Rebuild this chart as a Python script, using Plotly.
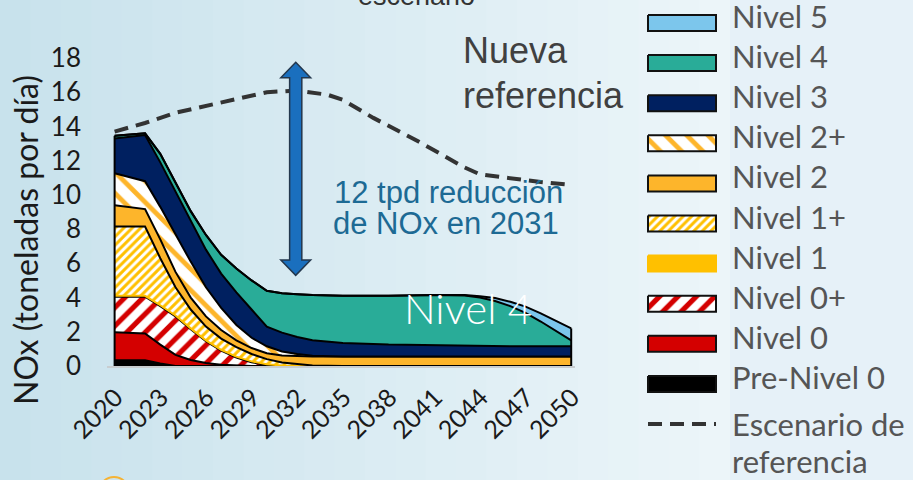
import plotly.graph_objects as go

# ---------------- data ----------------
years = [2020, 2022, 2023, 2024, 2025, 2026, 2027, 2028, 2029, 2030, 2031, 2032,
         2033, 2035, 2038, 2041, 2043, 2044, 2045, 2046, 2047, 2048, 2049, 2050]

pre_nivel0 = [0.33, 0.33, 0.15, 0, 0, 0, 0, 0, 0, 0, 0, 0,
              0, 0, 0, 0, 0, 0, 0, 0, 0, 0, 0, 0]
nivel0 = [1.64, 1.57, 1.10, 0.65, 0.35, 0.18, 0.08, 0.03, 0, 0, 0, 0,
          0, 0, 0, 0, 0, 0, 0, 0, 0, 0, 0, 0]
nivel0p = [2.08, 2.15, 2.25, 2.25, 1.80, 1.27, 0.82, 0.47, 0.22, 0.06, 0, 0,
           0, 0, 0, 0, 0, 0, 0, 0, 0, 0, 0, 0]
nivel1 = [0.05, 0.05, 0.05, 0.05, 0.05, 0.05, 0.05, 0.05, 0.05, 0.04, 0.03, 0,
          0, 0, 0, 0, 0, 0, 0, 0, 0, 0, 0, 0]
nivel1p = [4.05, 4.05, 2.75, 1.65, 1.10, 0.80, 0.65, 0.55, 0.43, 0.30, 0.17, 0.10,
           0.03, 0, 0, 0, 0, 0, 0, 0, 0, 0, 0, 0]
nivel2 = [1.25, 1.02, 1.10, 0.90, 0.70, 0.60, 0.50, 0.40, 0.35, 0.35, 0.42, 0.48,
          0.53, 0.55, 0.55, 0.55, 0.55, 0.55, 0.55, 0.55, 0.55, 0.55, 0.55, 0.55]
nivel2p = [1.87, 1.63, 1.90, 2.20, 2.10, 1.70, 1.30, 0.90, 0.60, 0.40, 0.23, 0.12,
           0.04, 0.01, 0, 0, 0, 0, 0, 0, 0, 0, 0, 0]
nivel3 = [2.03, 2.70, 2.60, 2.50, 2.40, 2.20, 2.00, 1.90, 1.65, 1.15, 1.10, 1.00,
          0.90, 0.79, 0.70, 0.65, 0.63, 0.62, 0.61, 0.60, 0.60, 0.60, 0.60, 0.60]
nivel4 = [0.15, 0.10, 0.50, 0.50, 0.55, 0.86, 1.10, 1.40, 1.70, 2.10, 2.30, 2.50,
          2.65, 2.75, 2.85, 2.95, 2.94, 2.83, 2.64, 2.35, 1.95, 1.45, 0.90, 0.35]
nivel5 = [0, 0, 0, 0, 0, 0, 0, 0, 0, 0, 0, 0,
          0, 0, 0, 0, 0.03, 0.08, 0.17, 0.25, 0.37, 0.48, 0.60, 0.70]

ref_years = [2020, 2022, 2024, 2026, 2028, 2030, 2032, 2034, 2035, 2037, 2040,
             2043, 2044, 2046, 2048, 2050]
ref_values = [13.7, 14.2, 14.8, 15.2, 15.6, 16.0, 16.1, 15.85, 15.55, 14.5, 13.1,
              11.6, 11.2, 10.95, 10.75, 10.58]

x_ticks = [2020, 2023, 2026, 2029, 2032, 2035, 2038, 2041, 2044, 2047, 2050]
y_ticks = [0, 2, 4, 6, 8, 10, 12, 14, 16, 18]

# ---------------- styles ----------------
# name, values, colour, pattern (shape, size, solidity), border in legend
series = [
    ("Pre-Nivel 0", pre_nivel0, "#000000", None, True),
    ("Nivel 0", nivel0, "#D40000", None, True),
    ("Nivel 0+", nivel0p, "#D40000", ("/", 13, 0.4), True),
    ("Nivel 1", nivel1, "#FFC000", None, False),
    ("Nivel 1+", nivel1p, "#FFC000", ("/", 6, 0.5), True),
    ("Nivel 2", nivel2, "#FDB52B", None, True),
    ("Nivel 2+", nivel2p, "#FDB52B", ("\\", 15, 0.32), True),
    ("Nivel 3", nivel3, "#002060", None, True),
    ("Nivel 4", nivel4, "#29AC98", None, True),
    ("Nivel 5", nivel5, "#7CC6EC", None, True),
]

W, H = 913, 480
PX_L, PX_R, PX_T, PX_B = 107, 575, 58, 366   # plot-area box in pixels


def fill_kw(color, pat):
    if pat is None:
        return dict(fillcolor=color)
    return dict(fillcolor="white",
                fillpattern=dict(shape=pat[0], fgcolor=color, bgcolor="white",
                                 size=pat[1], solidity=pat[2], fillmode="replace"))


fig = go.Figure()
for name, vals, color, pat, border in series:
    fig.add_trace(go.Scatter(
        x=years, y=vals, name=name, stackgroup="one", mode="lines",
        line=dict(color="#000000" if name != "Nivel 1" else "#FFC000", width=2),
        showlegend=False, hoverinfo="skip", **fill_kw(color, pat)))

fig.add_trace(go.Scatter(
    x=ref_years, y=ref_values, name="Escenario de referencia", mode="lines",
    line=dict(color="#333333", width=4, dash="14px,8px"),
    showlegend=False, hoverinfo="skip"))

# ---------------- hand-made legend (pixel axis over the whole figure) ----------------
LEG_FONT = dict(family="Lato", size=31, color="#555555")
annotations = []
sw_x0, sw_x1, sw_h = 648, 716, 16
for k, (name, vals, color, pat, border) in enumerate(reversed(series)):
    cy = 23 + 40.1 * k
    fig.add_trace(go.Scatter(
        x=[sw_x0, sw_x1, sw_x1, sw_x0, sw_x0],
        y=[cy - sw_h / 2, cy - sw_h / 2, cy + sw_h / 2, cy + sw_h / 2, cy - sw_h / 2],
        xaxis="x2", yaxis="y2", mode="lines", fill="toself",
        line=dict(color="#111111" if border else color, width=2),
        showlegend=False, hoverinfo="skip", **fill_kw(color, pat)))
    annotations.append(dict(
        x=730 / W, y=1 - (cy - 7) / H, xref="paper", yref="paper", text=name,
        showarrow=False, xanchor="left", yanchor="middle", font=LEG_FONT))

cy = 23 + 40.1 * 10
fig.add_trace(go.Scatter(
    x=[sw_x0, sw_x1], y=[cy, cy], xaxis="x2", yaxis="y2", mode="lines",
    line=dict(color="#333333", width=4, dash="14px,8px"),
    showlegend=False, hoverinfo="skip"))
annotations.append(dict(x=730 / W, y=1 - (cy + 0) / H, xref="paper", yref="paper",
                        text="Escenario de", showarrow=False, xanchor="left",
                        yanchor="middle", font=LEG_FONT))
annotations.append(dict(x=730 / W, y=1 - (cy + 37) / H, xref="paper", yref="paper",
                        text="referencia", showarrow=False, xanchor="left",
                        yanchor="middle", font=LEG_FONT))

# ---------------- other annotations ----------------
annotations += [
    dict(x=416 / W, y=1 - 13 / H, xref="paper", yref="paper", text="escenario",
         showarrow=False, xanchor="center", yanchor="bottom",
         font=dict(family="Liberation Sans", size=27, color="#333333")),
    dict(x=461 / W, y=1 - 51 / H, xref="paper", yref="paper", text="Nueva",
         showarrow=False, xanchor="left", yanchor="middle",
         font=dict(family="Liberation Sans", size=36, color="#404040")),
    dict(x=461 / W, y=1 - 96 / H, xref="paper", yref="paper", text="referencia",
         showarrow=False, xanchor="left", yanchor="middle",
         font=dict(family="Liberation Sans", size=36, color="#404040")),
    dict(x=448 / W, y=1 - 192 / H, xref="paper", yref="paper", text="12 tpd reducción",
         showarrow=False, xanchor="center", yanchor="middle",
         font=dict(family="Liberation Sans", size=31, color="#1D6A94")),
    dict(x=446 / W, y=1 - 223 / H, xref="paper", yref="paper", text="de NOx en 2031",
         showarrow=False, xanchor="center", yanchor="middle",
         font=dict(family="Liberation Sans", size=31, color="#1D6A94")),
    dict(x=468 / W, y=1 - 308 / H, xref="paper", yref="paper", text="Nivel 4",
         showarrow=False, xanchor="center", yanchor="middle",
         font=dict(family="Lato", size=42, color="#FFFFFF", weight=300)),
    dict(x=25 / W, y=1 - 240 / H, xref="paper", yref="paper",
         text="NOx (toneladas por día)", textangle=-90, showarrow=False,
         xanchor="center", yanchor="middle",
         font=dict(family="Lato", size=32, color="#1a1a1a")),
]

# ---------------- shapes ----------------
total_first = sum(s[1][0] for s in series)
total_last = sum(s[1][-1] for s in series)

shapes = []
# soft left-to-right background gradient (decoration)
n_strips = 24
c0, c1 = (200, 226, 236), (236, 245, 249)
for i in range(n_strips):
    t = i / (n_strips - 1)
    col = tuple(round(a + (b - a) * t) for a, b in zip(c0, c1))
    shapes.append(dict(type="rect", xref="paper", yref="paper",
                       x0=i * 730 / n_strips / W, x1=(i + 1) * 730 / n_strips / W + 0.001,
                       y0=0, y1=1, fillcolor="rgb(%d,%d,%d)" % col,
                       line=dict(width=0), layer="below"))
shapes.append(dict(type="rect", xref="paper", yref="paper", x0=730 / W, x1=1.0, y0=0, y1=1,
                   fillcolor="#E6F1F8", line=dict(width=0), layer="below"))
shapes += [
    dict(type="line", xref="x", yref="y", x0=years[0], x1=years[0], y0=0, y1=total_first,
         line=dict(color="#000000", width=2)),
    dict(type="line", xref="x", yref="y", x0=years[-1], x1=years[-1], y0=0, y1=total_last,
         line=dict(color="#000000", width=2)),
]
cx, hw, sw = 2031.9, 0.98, 0.4
top, topb, bot, botb = 17.75, 16.85, 5.3, 6.2
path = (f"M {cx},{top} L {cx+hw},{topb} L {cx+sw},{topb} L {cx+sw},{botb} "
        f"L {cx+hw},{botb} L {cx},{bot} L {cx-hw},{botb} L {cx-sw},{botb} "
        f"L {cx-sw},{topb} L {cx-hw},{topb} Z")
shapes.append(dict(type="path", xref="x", yref="y", path=path,
                   fillcolor="#1A6FBE", line=dict(color="#23374D", width=1.5)))
shapes.append(dict(type="circle", xref="paper", yref="paper",
                   x0=99 / W, x1=129 / W, y0=1 - 507 / H, y1=1 - 477 / H,
                   line=dict(color="#F5B335", width=2)))

fig.update_layout(
    width=W, height=H,
    margin=dict(l=0, r=0, t=0, b=0, autoexpand=False),
    paper_bgcolor="#D8ECF3", plot_bgcolor="rgba(0,0,0,0)",
    showlegend=False,
    shapes=shapes, annotations=annotations,
    xaxis=dict(domain=[PX_L / W, PX_R / W], anchor="y", automargin=False,
               range=[2019.5, 2050.25], tickvals=x_ticks, ticktext=[str(t) for t in x_ticks],
               tickangle=-45, showgrid=False, zeroline=False, showline=True,
               linecolor="#C8CDD0", linewidth=2, ticks="", ticklabelstandoff=5,
               ticklabelshift=1, fixedrange=True,
               tickfont=dict(family="Lato", size=25, color="#1a1a1a")),
    yaxis=dict(domain=[1 - PX_B / H, 1 - PX_T / H], anchor="x", automargin=False,
               range=[0, 18], tickvals=y_ticks, showgrid=False, zeroline=False,
               showline=False, ticks="", ticklabelstandoff=25, fixedrange=True,
               tickfont=dict(family="Lato", size=26, color="#1a1a1a")),
    xaxis2=dict(domain=[0, 1], range=[0, W], visible=False, anchor="y2", fixedrange=True,
                automargin=False),
    yaxis2=dict(domain=[0, 1], range=[H, 0], visible=False, anchor="x2", fixedrange=True,
                automargin=False),
)

fig.write_html("out.html", config={"displayModeBar": False},
               post_script="document.body.style.margin='0px';document.body.style.overflow='hidden';")
